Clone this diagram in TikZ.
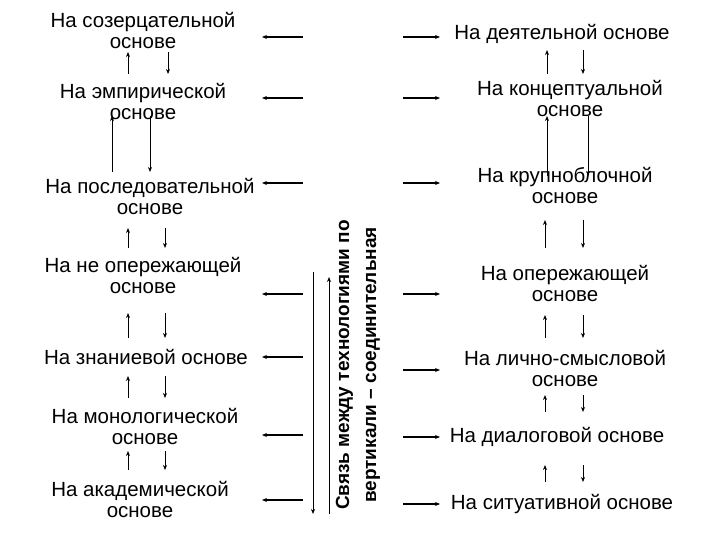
\documentclass[tikz,border=0pt]{standalone}
\usepackage{fontspec}
\setmainfont{Liberation Sans}
\usetikzlibrary{arrows.meta}
\begin{document}
\begin{tikzpicture}[x=1pt,y=-1pt,
  lbl/.style={align=center,font=\fontsize{20.5}{21}\selectfont,inner sep=0pt},
  ar/.style={-{Stealth[length=5pt,width=4pt]},line width=0.9pt},
  arh/.style={-{Stealth[length=5pt,width=4pt]},line width=1.2pt}]
\useasboundingbox (0,0) rectangle (720,540);
\fill[white] (0,0) rectangle (720,540);
% left nodes
\node[lbl] (L1) at (143,30) {На созерцательной\\основе};
\node[lbl] (L2) at (143,101) {На эмпирической\\основе};
\node[lbl] (L3) at (150,196) {На последовательной\\основе};
\node[lbl] (L4) at (143,275) {На не опережающей\\основе};
\node[lbl] (L5) at (146,357) {На знаниевой основе};
\node[lbl] (L6) at (145,426) {На монологической\\основе};
\node[lbl] (L7) at (140,499) {На академической\\основе};
% right nodes
\node[lbl] (R1) at (562,34) {На деятельной основе};
\node[lbl] (R2) at (570,98) {На концептуальной\\основе};
\node[lbl] (R3) at (565,185) {На крупноблочной\\основе};
\node[lbl] (R4) at (565,283) {На опережающей\\основе};
\node[lbl] (R5) at (565,368) {На лично-смысловой\\основе};
\node[lbl] (R6) at (557,437) {На диалоговой основе};
\node[lbl] (R7) at (562,504) {На ситуативной основе};
% center text
\node[rotate=90,align=center,font=\fontsize{19}{27}\selectfont\bfseries,inner sep=0pt] (C) at (358,365) {Связь между технологиями по\\вертикали – соединительная};
% horizontal arrows
\foreach \y in {37,98,183,294,357,435,500} {\coordinate (a) at (303,\y); \coordinate (b) at (262,\y); \draw[arh] (a) -- (b);}
\foreach \y in {37,98,183,294,370,437,504} {\coordinate (a) at (403,\y); \coordinate (b) at (440,\y); \draw[arh] (a) -- (b);}
% center verticals
\coordinate (d1) at (313,272); \coordinate (d2) at (313,514);
\coordinate (u1) at (329,514); \coordinate (u2) at (329,277);
\draw[ar] (d1) -- (d2); \draw[ar] (u1) -- (u2);
% left verticals
\foreach \xu/\xd/\ya/\yb in {128/168/52/74, 112/150/116/172, 128/165/228/248, 128/165/313/338, 128/165/376/398, 128/165/451/470} {
  \coordinate (p) at (\xu,\yb); \coordinate (q) at (\xu,\ya); \draw[ar] (p) -- (q);
  \coordinate (p) at (\xd,\ya); \coordinate (q) at (\xd,\yb); \draw[ar] (p) -- (q);}
\foreach \xu/\xd/\ya/\yb in {547/583/50/74, 547/588/116/176, 545/583/220/248, 545/583/315/338, 545/583/395/412, 545/583/465/482} {
  \coordinate (p) at (\xu,\yb); \coordinate (q) at (\xu,\ya); \draw[ar] (p) -- (q);
  \coordinate (p) at (\xd,\ya); \coordinate (q) at (\xd,\yb); \draw[ar] (p) -- (q);}
\end{tikzpicture}
\end{document}
